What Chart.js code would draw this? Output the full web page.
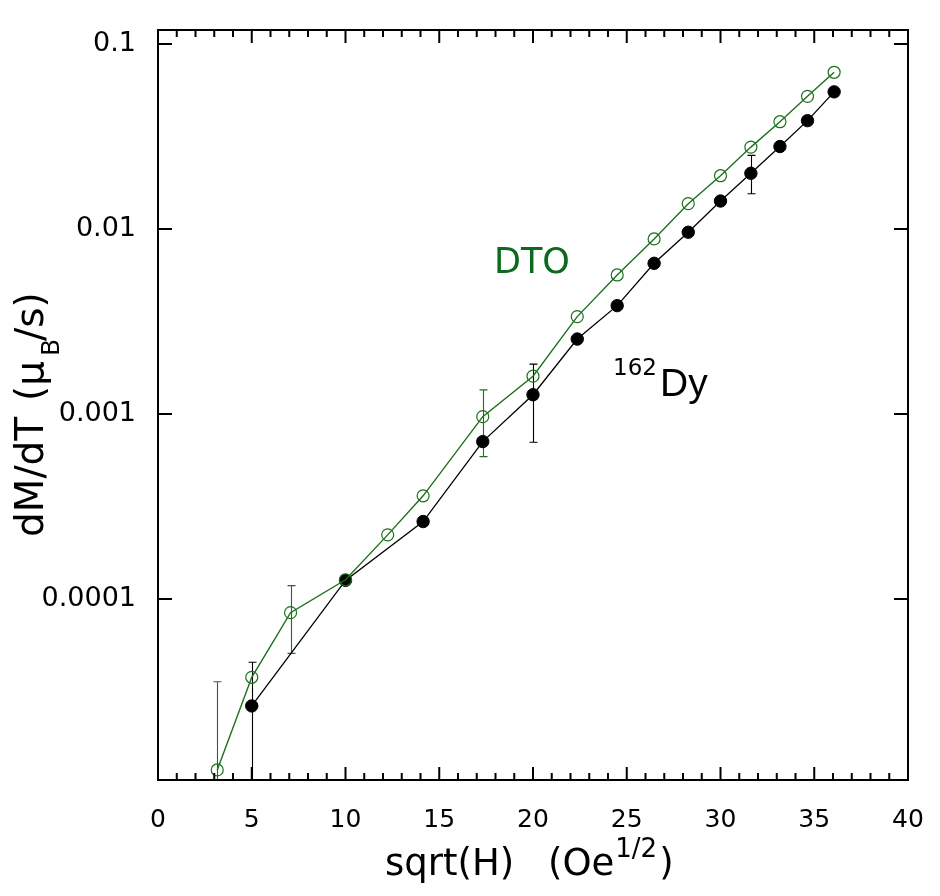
<!DOCTYPE html>
<html><head><meta charset="utf-8">
<script src="https://cdn.jsdelivr.net/npm/chart.js@4.4.0/dist/chart.umd.min.js"></script>
<style>html,body{margin:0;padding:0;background:#fff}#wrap{width:940px;height:896px;position:relative}</style>
</head><body><div id="wrap"><canvas id="c"></canvas></div>
<script>
// ---- data ----
const sqrtH = [3.16, 5.00, 7.07, 10.00, 12.25, 14.14, 17.32, 20.00, 22.36, 24.49, 26.46, 28.28, 30.00, 31.62, 33.17, 34.64, 36.06];
const dtoValues = [1.19e-5, 3.77e-5, 8.43e-5, 1.27e-4, 2.22e-4, 3.61e-4, 9.67e-4, 1.60e-3, 3.36e-3, 5.64e-3, 8.83e-3, 0.0137, 0.0194, 0.0277, 0.0380, 0.0521, 0.0703];
const dyX = [5.00, 10.00, 14.14, 17.32, 20.00, 22.36, 24.49, 26.46, 28.28, 30.00, 31.62, 33.17, 34.64, 36.06];
const dyValues = [2.64e-5, 1.26e-4, 2.62e-4, 7.09e-4, 1.27e-3, 2.54e-3, 3.85e-3, 6.52e-3, 9.60e-3, 0.01416, 0.0200, 0.0279, 0.0385, 0.0551];
const dtoErrX = [3.16, 7.07, 17.32];
const dtoErrLow = [1e-6, 5.08e-5, 5.88e-4];
const dtoErrHigh = [3.57e-5, 1.18e-4, 1.35e-3];
const dyErrX = [5.00, 20.00, 31.62];
const dyErrLow = [1e-6, 7.03e-4, 0.0155];
const dyErrHigh = [4.55e-5, 1.86e-3, 0.0250];
const yTickValues = [1e-4, 1e-3, 1e-2, 1e-1];
const yTickLabels = ['0.0001', '0.001', '0.01', '0.1'];
const xMin = 0, xMax = 40, xStep = 5, xMinorStep = 1;
const yMin = 1.05e-5, yMax = 0.119;

const GREEN = '#1c701c';
const GREEN_TEXT = '#0b6a1e';

const toPts = (xs, ys) => xs.map((x, i) => ({x: x, y: ys[i]}));

const errorBars = {
  id: 'errorBars',
  beforeDatasetsDraw(chart) {
    const {ctx, chartArea: a, scales: {x, y}} = chart;
    ctx.save();
    ctx.beginPath(); ctx.rect(a.left, a.top, a.right - a.left, a.bottom - a.top); ctx.clip();
    const draw = (xs, lo, hi, color) => {
      ctx.strokeStyle = color; ctx.lineWidth = 1.1;
      xs.forEach((xv, i) => {
        const px = Math.round(x.getPixelForValue(xv)) + 0.5;
        const p1 = y.getPixelForValue(lo[i]);
        const p2 = y.getPixelForValue(hi[i]);
        ctx.beginPath();
        ctx.moveTo(px, p1); ctx.lineTo(px, p2);
        ctx.moveTo(px - 4, p1); ctx.lineTo(px + 4, p1);
        ctx.moveTo(px - 4, p2); ctx.lineTo(px + 4, p2);
        ctx.stroke();
      });
    };
    draw(dyErrX, dyErrLow, dyErrHigh, '#000');
    draw(dtoErrX, dtoErrLow, dtoErrHigh, GREEN);
    ctx.restore();
  }
};

const frame = {
  id: 'frame',
  afterDraw(chart) {
    const {ctx, chartArea: a, scales: {x, y}} = chart;
    ctx.save();
    ctx.strokeStyle = '#000'; ctx.lineWidth = 2;
    ctx.strokeRect(a.left, a.top, a.right - a.left, a.bottom - a.top);
    ctx.beginPath();
    for (let v = xMin; v <= xMax + 1e-9; v += xMinorStep) {
      const px = x.getPixelForValue(v);
      const len = (Math.round(v) % xStep === 0) ? 13 : 7;
      ctx.moveTo(px, a.bottom); ctx.lineTo(px, a.bottom - len);
      ctx.moveTo(px, a.top); ctx.lineTo(px, a.top + len);
    }
    yTickValues.forEach(v => {
      const py = y.getPixelForValue(v);
      ctx.moveTo(a.left, py); ctx.lineTo(a.left + 14, py);
      ctx.moveTo(a.right, py); ctx.lineTo(a.right - 14, py);
    });
    ctx.stroke();

    // axis titles
    ctx.fillStyle = '#000';
    ctx.textBaseline = 'alphabetic';
    ctx.textAlign = 'left';
    ctx.font = '37px "DejaVu Sans"';
    ctx.fillText('sqrt(H)', 385, 875);
    ctx.fillText('(Oe', 548, 875);
    const wOe = ctx.measureText('(Oe').width;
    ctx.font = '26px "DejaVu Sans"';
    ctx.fillText('1/2', 548 + wOe + 1, 857);
    const w12 = ctx.measureText('1/2').width;
    ctx.font = '37px "DejaVu Sans"';
    ctx.fillText(')', 548 + wOe + w12 + 3, 875);

    ctx.save();
    ctx.translate(43, 537);
    ctx.rotate(-Math.PI / 2);
    ctx.font = '39px "DejaVu Sans"';
    ctx.fillText('dM/dT', 0, 0);
    ctx.fillText('(\u03bc', 136, 0);
    ctx.font = '25px "DejaVu Sans"';
    ctx.fillText('B', 181, 16);
    ctx.font = '39px "DejaVu Sans"';
    ctx.fillText('/s)', 196, 0);
    ctx.restore();

    // annotations
    ctx.fillStyle = GREEN_TEXT;
    ctx.font = '35px "DejaVu Sans"';
    ctx.fillText('DTO', 494, 273);
    ctx.fillStyle = '#000';
    ctx.font = '23px "DejaVu Sans"';
    ctx.fillText('162', 613, 375);
    ctx.font = '39px "Liberation Sans"';
    ctx.fillText('Dy', 660, 396);
    ctx.restore();
  }
};

new Chart(document.getElementById('c'), {
  type: 'scatter',
  data: {
    datasets: [
      {
        label: 'DTO',
        data: toPts(sqrtH, dtoValues),
        showLine: true,
        borderColor: GREEN,
        borderWidth: 1.4,
        pointStyle: 'circle',
        pointRadius: 6,
        pointBorderWidth: 1.2,
        pointBorderColor: GREEN,
        pointBackgroundColor: 'rgba(255,255,255,0)',
        order: 1
      },
      {
        label: '162Dy',
        data: toPts(dyX, dyValues),
        showLine: true,
        borderColor: '#000',
        borderWidth: 1.3,
        pointStyle: 'circle',
        pointRadius: 6.2,
        pointBorderWidth: 1,
        pointBorderColor: '#000',
        pointBackgroundColor: '#000',
        order: 2
      }
    ]
  },
  options: {
    responsive: true,
    maintainAspectRatio: false,
    animation: false,
    layout: {padding: {top: 30, right: 32, left: 0, bottom: 0}},
    plugins: {legend: {display: false}, tooltip: {enabled: false}},
    scales: {
      x: {
        type: 'linear', min: xMin, max: xMax,
        grid: {display: false, drawTicks: false},
        border: {display: false},
        ticks: {stepSize: xStep, padding: 25, color: '#000', font: {family: 'DejaVu Sans', size: 25}, maxRotation: 0},
        afterFit: s => { s.height = 116; s.paddingLeft = 0; s.paddingRight = 0; s.paddingTop = 0; s.paddingBottom = 0; }
      },
      y: {
        type: 'logarithmic', min: yMin, max: yMax,
        grid: {display: false, drawTicks: false},
        border: {display: false},
        afterBuildTicks: s => { s.ticks = yTickValues.map(v => ({value: v})); },
        ticks: {
          padding: 22, color: '#000', font: {family: 'DejaVu Sans', size: 27},
          callback: (v) => { const i = yTickValues.findIndex(t => Math.abs(t - v) / t < 1e-6); return i >= 0 ? yTickLabels[i] : ''; }
        },
        afterFit: s => { s.width = 158; s.paddingLeft = 0; s.paddingRight = 0; s.paddingTop = 0; s.paddingBottom = 0; }
      }
    }
  },
  plugins: [errorBars, frame]
});
</script>
</body></html>
